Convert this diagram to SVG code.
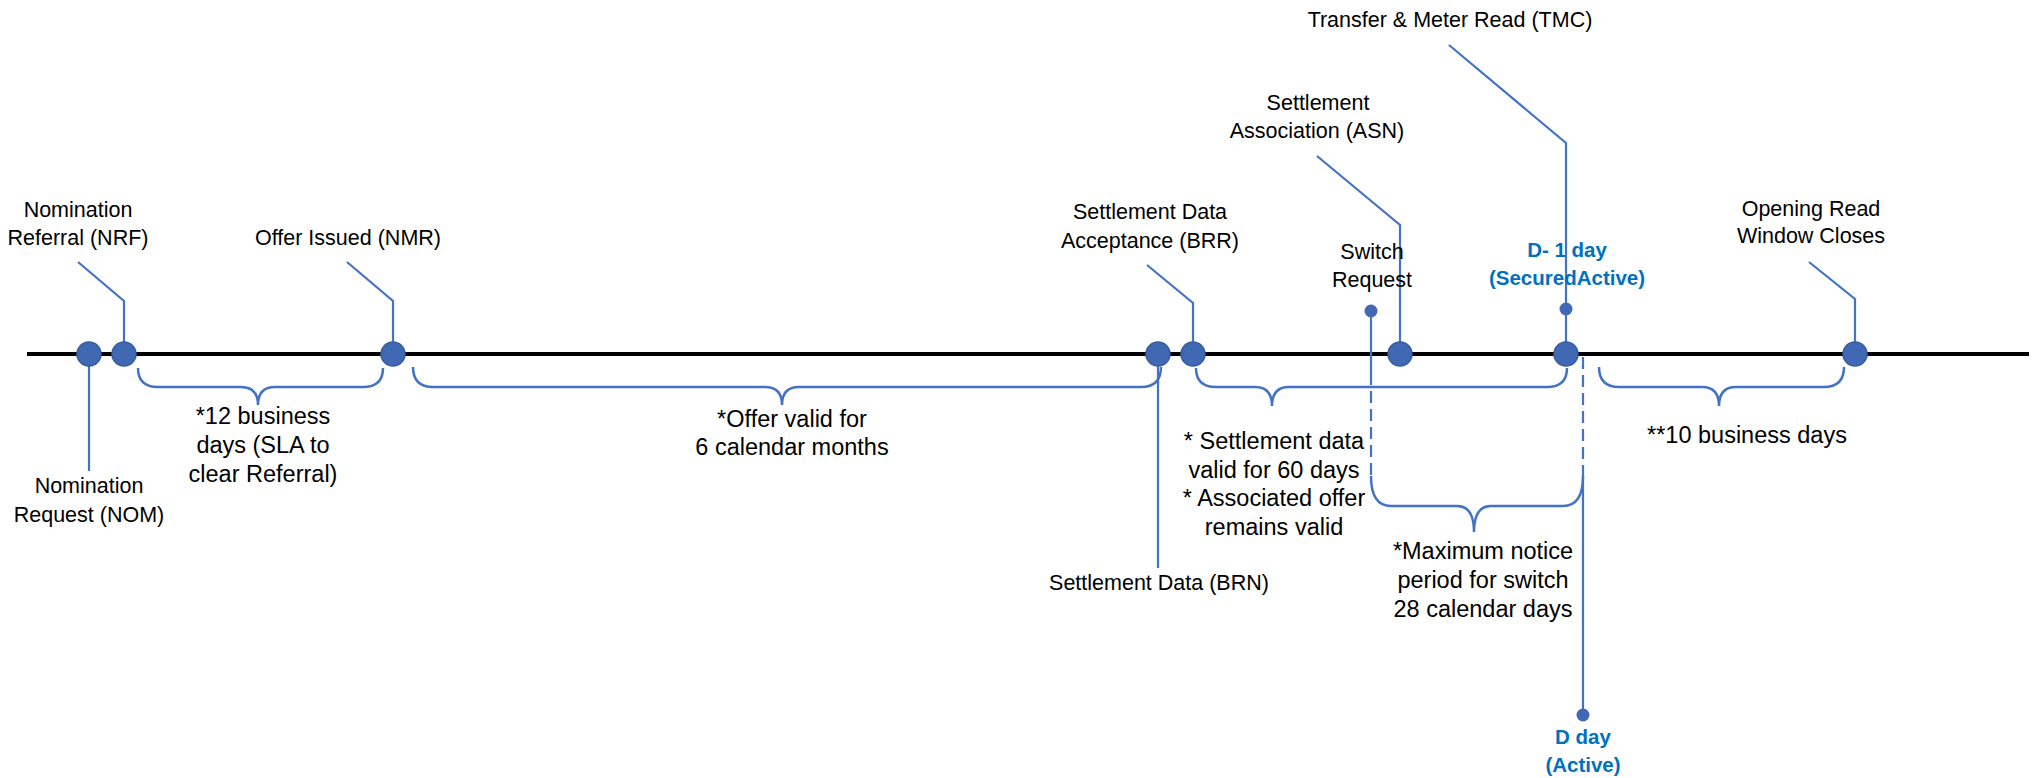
<svg xmlns="http://www.w3.org/2000/svg" width="2034" height="778" viewBox="0 0 2034 778">
<style>
.lbl{font-family:"Liberation Sans",Arial,sans-serif;font-size:21.5px;fill:#000;text-anchor:middle}
.note{font-family:"Liberation Sans",Arial,sans-serif;font-size:23.5px;fill:#000;text-anchor:middle}
.blue{font-family:"Liberation Sans",Arial,sans-serif;font-size:20.5px;font-weight:bold;fill:#0070C0;text-anchor:middle}
.ln{fill:none;stroke:#4472C4;stroke-width:2.2}
.dash{fill:none;stroke:#4472C4;stroke-width:2.2;stroke-dasharray:12 6}
.brace{fill:none;stroke:#4472C4;stroke-width:2.5}
.dot{fill:#4168B3;stroke:#365D9F;stroke-width:1.5}
.sdot{fill:#4168B3}
</style>
<rect width="2034" height="778" fill="#fff"/>
<g id="timeline">
<line x1="27" y1="354" x2="2029" y2="354" stroke="#000" stroke-width="4"/>
</g>
<g id="connectors">
<polyline class="ln" points="78,262 124,301 124,354"/>
<polyline class="ln" points="347,262 393,301 393,354"/>
<line class="ln" x1="89" y1="354" x2="89" y2="471"/>
<polyline class="ln" points="1147,265 1193,303 1193,354"/>
<line class="ln" x1="1158" y1="354" x2="1158" y2="568"/>
<polyline class="ln" points="1317,156 1400,225 1400,354"/>
<polyline class="ln" points="1449,45 1566,143 1566,354"/>
<polyline class="ln" points="1809,262 1855,299 1855,354"/>
<line class="ln" x1="1371" y1="311" x2="1371" y2="373"/>
<line class="dash" x1="1371" y1="373" x2="1371" y2="476"/>
<line class="dash" x1="1583" y1="357" x2="1583" y2="473"/>
<line class="ln" x1="1583" y1="473" x2="1583" y2="715"/>
<path class="brace" d="M138,368 Q138,387 158,387 L241,387 Q258,387 258,405 Q258,387 275,387 L363,387 Q383,387 383,368"/>
<path class="brace" d="M413,367 Q413,387 433,387 L765,387 Q782,387 782,405 Q782,387 799,387 L1141,387 Q1161,387 1161,367"/>
<path class="brace" d="M1196,368 Q1196,387 1216,387 L1255,387 Q1272,387 1272,406 Q1272,387 1289,387 L1547,387 Q1567,387 1567,368"/>
<path class="brace" d="M1371,476 Q1371,506 1391,506 L1457,506 Q1474,506 1474,532 Q1474,506 1491,506 L1563,506 Q1583,506 1583,476"/>
<path class="brace" d="M1599,367 Q1599,387 1619,387 L1702,387 Q1719,387 1719,406 Q1719,387 1736,387 L1824,387 Q1844,387 1844,367"/>
</g>
<g id="nom"><circle class="dot" cx="89" cy="354" r="12"/>
<text class="lbl" x="89" y="493">Nomination</text><text class="lbl" x="89" y="522">Request (NOM)</text></g>
<g id="nrf"><circle class="dot" cx="124" cy="354" r="12"/>
<text class="lbl" x="78" y="217">Nomination</text><text class="lbl" x="78" y="245">Referral (NRF)</text></g>
<g id="nmr"><circle class="dot" cx="393" cy="354" r="12"/>
<text class="lbl" x="348" y="245">Offer Issued (NMR)</text></g>
<g id="brn"><circle class="dot" cx="1158" cy="354" r="12"/>
<text class="lbl" x="1159" y="590">Settlement Data (BRN)</text></g>
<g id="brr"><circle class="dot" cx="1193" cy="354" r="12"/>
<text class="lbl" x="1150" y="219">Settlement Data</text><text class="lbl" x="1150" y="248">Acceptance (BRR)</text></g>
<g id="switch"><circle class="sdot" cx="1371" cy="311" r="6.5"/>
<text class="lbl" x="1372" y="259">Switch</text><text class="lbl" x="1372" y="287">Request</text></g>
<g id="asn"><circle class="dot" cx="1400" cy="354" r="12"/>
<text class="lbl" x="1318" y="110">Settlement</text><text class="lbl" x="1317" y="138">Association (ASN)</text></g>
<g id="tmc"><circle class="dot" cx="1566" cy="354" r="12"/>
<text class="lbl" x="1450" y="27">Transfer &amp; Meter Read (TMC)</text></g>
<g id="dminus1"><circle class="sdot" cx="1566" cy="309" r="6.5"/>
<text class="blue" x="1567" y="257">D- 1 day</text><text class="blue" x="1567" y="285">(SecuredActive)</text></g>
<g id="dday"><circle class="sdot" cx="1583" cy="715" r="6.5"/>
<text class="blue" x="1583" y="744">D day</text><text class="blue" x="1583" y="772">(Active)</text></g>
<g id="orw"><circle class="dot" cx="1855" cy="354" r="12"/>
<text class="lbl" x="1811" y="216">Opening Read</text><text class="lbl" x="1811" y="243">Window Closes</text></g>
<g id="notes">
<text class="note" x="263" y="424">*12 business</text>
<text class="note" x="263" y="453">days (SLA to</text>
<text class="note" x="263" y="482">clear Referral)</text>
<text class="note" x="792" y="427">*Offer valid for</text>
<text class="note" x="792" y="455">6 calendar months</text>
<text class="note" x="1274" y="449">* Settlement data</text>
<text class="note" x="1274" y="478">valid for 60 days</text>
<text class="note" x="1274" y="506">* Associated offer</text>
<text class="note" x="1274" y="535">remains valid</text>
<text class="note" x="1483" y="559">*Maximum notice</text>
<text class="note" x="1483" y="588">period for switch</text>
<text class="note" x="1483" y="617">28 calendar days</text>
<text class="note" x="1747" y="443">**10 business days</text>
</g>
</svg>
